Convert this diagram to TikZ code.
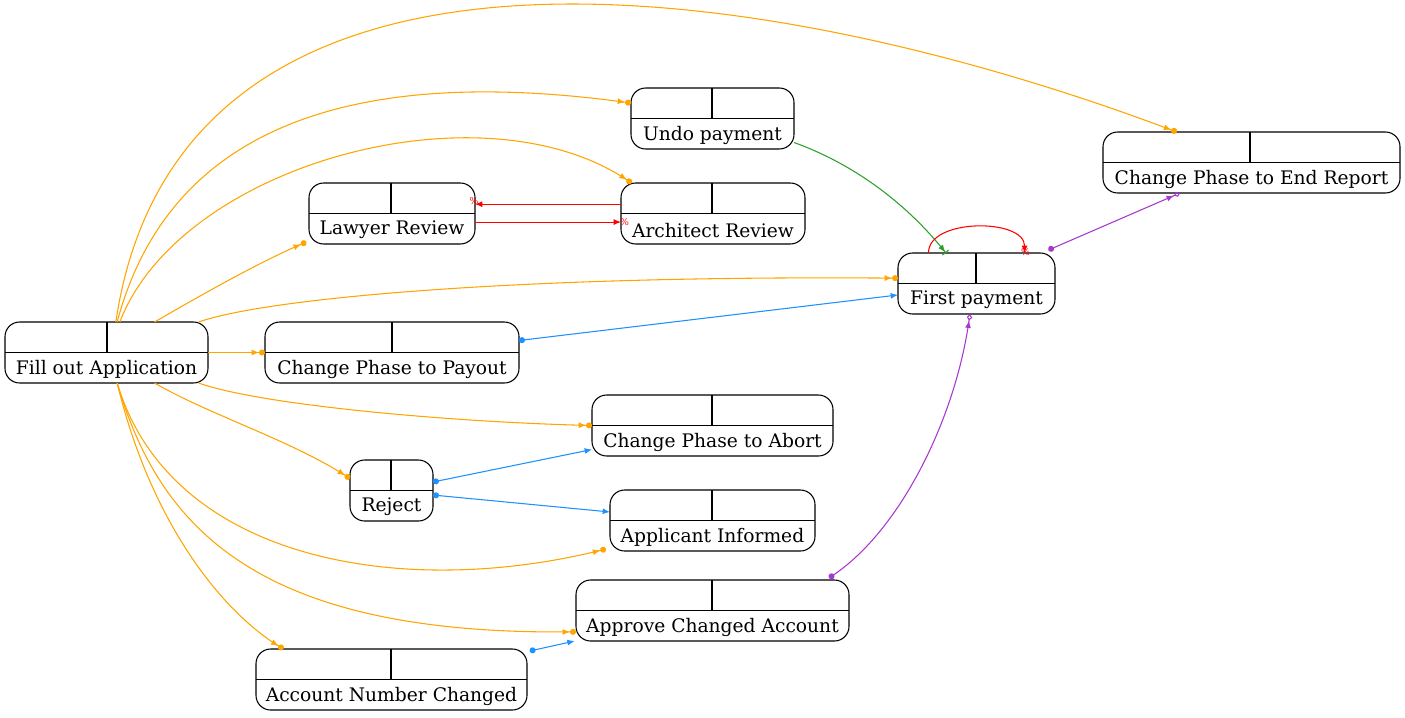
\documentclass[tikz,border=0pt]{standalone}
\usepackage{fontspec}
\setmainfont{DejaVu Serif}
\usepackage{tikz}
\usetikzlibrary{arrows.meta,positioning,calc}

\definecolor{flowor}{HTML}{FFA500}
\definecolor{flowbl}{HTML}{1E90FF}
\definecolor{flowrd}{HTML}{FF0000}
\definecolor{flowpu}{HTML}{A838CC}
\definecolor{flowgr}{HTML}{2CA02C}

\tikzset{
  recbox/.style={draw, rounded corners=11pt, minimum height=45.75pt, inner sep=0pt, outer sep=0pt, line width=0.8pt},
  reclabel/.style={inner sep=0pt, font=\fontsize{14}{17}\selectfont},
  orline/.style={flowor, line width=0.8pt, -{Latex[length=5.5pt,width=4.5pt] Circle[length=4.5pt]}},
  blline/.style={flowbl, line width=0.8pt, {Circle[length=4.5pt]}-{Latex[length=5.5pt,width=4.5pt]}},
  puline/.style={flowpu, line width=0.8pt, {Circle[length=4.5pt]}-{Latex[length=5.5pt,width=4.5pt] Diamond[open,length=5pt,width=4pt]}},
  grline/.style={flowgr, line width=0.8pt, -{Latex[length=5.5pt,width=4.5pt] Bar[width=6pt]}},
  rdline/.style={flowrd, line width=0.8pt, -{Latex[length=5.5pt,width=4.5pt]}},
  pct/.style={flowrd, inner sep=0pt, font=\fontsize{7}{8}\selectfont}
}

% record node: name, left, top, right, divider x, text (pixel units)
\newcommand{\recnode}[6]{%
  \node[recbox, minimum width={(#4-#2)*0.75pt}] (#1) at ({(#2+#4)/2},{#3+30.5}) {};
  \draw[line width=0.8pt] (#1.west) -- (#1.east);
  \coordinate (#1-v) at (#5,#3);
  \draw[line width=0.8pt] (#1-v) -- (#1-v |- #1.center);
  \node[reclabel] (#1-t) at ([yshift=-1pt]$(#1.center)!0.5!(#1.south)$) {#6};
}

\begin{document}
\begin{tikzpicture}[x=0.75pt, y=-0.75pt]
  \useasboundingbox (0,0) rectangle (1405,717);

  % records
  \recnode{fill}{5}{322}{208}{107}{Fill out Application}
  \recnode{lawyer}{309}{183}{475}{391}{Lawyer Review}
  \recnode{arch}{621}{183}{805}{712}{Architect Review}
  \recnode{undo}{631}{88}{794}{712}{Undo payment}
  \recnode{endr}{1103}{132}{1400}{1250}{Change Phase to End Report}
  \recnode{first}{898}{253}{1055}{976}{First payment}
  \recnode{payout}{265}{322}{519}{392}{Change Phase to Payout}
  \recnode{abort}{592}{395}{833}{712}{Change Phase to Abort}
  \recnode{reject}{350}{460}{433}{391}{Reject}
  \recnode{inform}{610}{490}{815}{712}{Applicant Informed}
  \recnode{approve}{576}{580}{849}{712}{Approve Changed Account}
  \recnode{acct}{256}{649}{527}{391}{Account Number Changed}

  % from Fill out Application
  \draw[orline] ([xshift=7pt]fill.north) .. controls (180,-110) and (760,-25) .. ([xshift=-56pt]endr.north);
  \draw[orline] ([xshift=8pt]fill.north) .. controls (175,105) and (390,70) .. ([yshift=11.6pt]undo.west);
  \draw[orline] ([xshift=10pt]fill.north) .. controls (180,165) and (480,82) .. ([xshift=-61pt]arch.north);
  \draw[orline] ([xshift=36pt]fill.north) .. controls (210,290) and (260,262) .. ([xshift=-2pt,yshift=1.5pt]lawyer.south west);
  \draw[orline] ([xshift=-7pt]fill.north east) .. controls (260,300) and (500,275) .. ([yshift=4pt]first.west);
  \draw[orline] (fill.east) -- (payout.west);
  \draw[orline] ([xshift=-7pt]fill.south east) .. controls (260,405) and (450,422) .. ([yshift=0pt]abort.west);
  \draw[orline] ([xshift=36pt]fill.south) .. controls (210,415) and (290,440) .. ([yshift=9pt]reject.west);
  \draw[orline] ([xshift=8pt]fill.south) .. controls (170,560) and (400,600) .. ([xshift=-3pt,yshift=1.5pt]inform.south west);
  \draw[orline] ([xshift=8pt]fill.south) .. controls (160,530) and (260,635) .. ([yshift=-16pt]approve.west);
  \draw[orline] ([xshift=8pt]fill.south) .. controls (150,520) and (220,610) .. ([xshift=-81pt]acct.north);

  % blue
  \draw[blline] ([yshift=9pt]payout.east) -- ([yshift=-8.6pt]first.west);
  \draw[blline] ([yshift=6.4pt]reject.east) -- ([yshift=-18pt]abort.west);
  \draw[blline] ([yshift=-3.4pt]reject.east) -- ([yshift=6.4pt]inform.west);
  \draw[blline] ([xshift=2pt,yshift=-1.5pt]acct.north east) -- ([xshift=-1pt]approve.south west);

  % purple
  \draw[puline] ([xshift=-5pt,yshift=2.2pt]first.north east) -- ([xshift=-53.6pt]endr.south);
  \draw[puline] ([xshift=-15pt,yshift=1.5pt]approve.north east) .. controls (900,530) and (955,420) .. ([xshift=-4.9pt]first.south);

  % green
  \draw[grline] ([yshift=-18pt]undo.east) .. controls (870,170) and (920,220) .. ([xshift=-23pt]first.north);

  % red
  \draw[rdline] ([yshift=7pt]arch.west) -- ([yshift=7pt]lawyer.east) node[pct, pos=1, above left=-1pt and -3pt] (p1) {\%};
  \draw[rdline] ([yshift=-6.4pt]lawyer.east) -- ([yshift=-6.4pt]arch.west) node[pct, pos=1, right=-1pt] (p2) {\%};
  \draw[rdline] ([xshift=-36pt]first.north) .. controls (928,218) and (1025,218) .. ([xshift=36pt]first.north) node[pct, pos=1, above right=-2pt and -3pt] (p3) {\%};
\end{tikzpicture}
\end{document}
